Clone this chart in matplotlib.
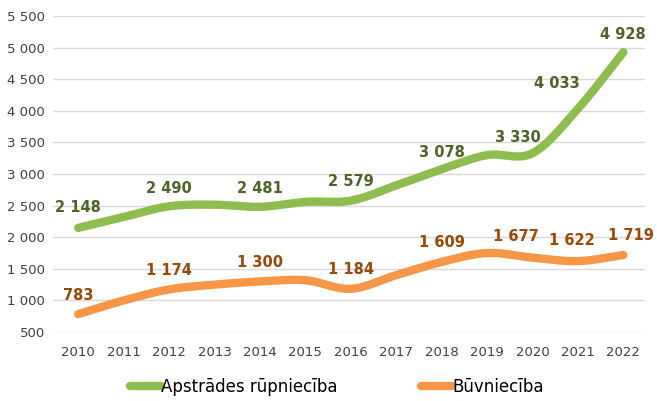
import matplotlib.pyplot as plt
import numpy as np

years = [2010, 2011, 2012, 2013, 2014, 2015, 2016, 2017, 2018, 2019, 2020, 2021, 2022]
apstrade = [2148, 2320, 2490, 2515, 2481, 2560, 2579, 2820, 3078, 3300, 3330, 4033, 4928]
buvnieciba = [783, 1000, 1174, 1250, 1300, 1320, 1184, 1400, 1609, 1750, 1677, 1622, 1719]

# which points get a value label, and how far the label sits from the point (px)
green_labels = [(0, 0, 20), (2, 0, 18), (4, 0, 18), (6, 0, 19), (8, 0, 17),
                (10, -15, 16), (11, -21, 25), (12, 0, 18)]
orange_labels = [(0, 0, 19), (2, 0, 19), (4, 0, 19), (6, 0, 19), (8, 0, 19),
                 (10, -17, 21), (11, -6, 21), (12, 8, 19)]

green = '#8FBC4E'
green_txt = '#4F6228'
orange = '#F79646'
orange_txt = '#984807'


def smooth(x, y, n=30):
    # Catmull-Rom curve through the points, like Excel's smoothed line
    x = np.asarray(x, float)
    y = np.asarray(y, float)
    px = np.concatenate([[2 * x[0] - x[1]], x, [2 * x[-1] - x[-2]]])
    py = np.concatenate([[2 * y[0] - y[1]], y, [2 * y[-1] - y[-2]]])
    xs, ys = [], []
    t = np.linspace(0, 1, n)
    for i in range(1, len(px) - 2):
        for p, out in ((px, xs), (py, ys)):
            p0, p1, p2, p3 = p[i - 1], p[i], p[i + 1], p[i + 2]
            out.extend(0.5 * ((2 * p1) + (-p0 + p2) * t
                              + (2 * p0 - 5 * p1 + 4 * p2 - p3) * t ** 2
                              + (-p0 + 3 * p1 - 3 * p2 + p3) * t ** 3))
    return xs, ys


fig = plt.figure(figsize=(6.57, 4.01), dpi=100)
ax = fig.add_axes([0.081, 0.172, 0.901, 0.788])

idx = np.arange(len(years))
gx, gy = smooth(idx, apstrade)
ox, oy = smooth(idx, buvnieciba)
ax.plot(gx, gy, color=green, lw=6, solid_capstyle='round', label='Apstrādes rūpniecība')
ax.plot(ox, oy, color=orange, lw=6, solid_capstyle='round', label='Būvniecība')

def fmt(v):
    return f'{v:,}'.replace(',', ' ')

for i, dx, dy in green_labels:
    ax.annotate(fmt(apstrade[i]), (idx[i], apstrade[i]), xytext=(dx * 0.72, dy * 0.72),
                textcoords='offset points', ha='center', va='center',
                fontsize=10.5, fontweight='bold', color=green_txt)
for i, dx, dy in orange_labels:
    ax.annotate(fmt(buvnieciba[i]), (idx[i], buvnieciba[i]), xytext=(dx * 0.72, dy * 0.72),
                textcoords='offset points', ha='center', va='center',
                fontsize=10.5, fontweight='bold', color=orange_txt)

ax.set_xlim(-0.55, 12.48)
ax.set_ylim(500, 5500)
ax.set_yticks(range(500, 5501, 500))
ax.set_yticklabels([fmt(v) for v in range(500, 5501, 500)])
ax.set_xticks(idx)
ax.set_xticklabels(years)
ax.grid(axis='y', color='#D9D9D9', lw=1)
ax.set_axisbelow(True)
for s in ax.spines.values():
    s.set_visible(False)
ax.tick_params(length=0, labelsize=9.5, labelcolor='#404040')
ax.tick_params(axis='x', pad=10)
ax.tick_params(axis='y', pad=6)

fig.legend(loc='center', bbox_to_anchor=(0.513, 0.035), ncol=2, frameon=False,
           fontsize=12, handlelength=1.85, handletextpad=0.05, columnspacing=5.0)

plt.savefig('out.png', dpi=100)
